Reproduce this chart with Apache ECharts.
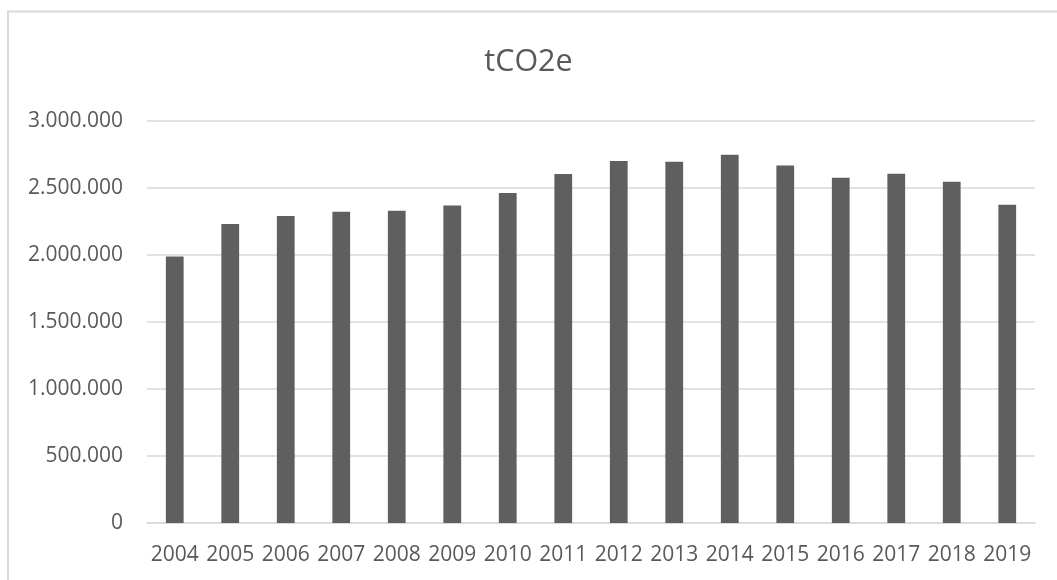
<!DOCTYPE html>
<html>
<head>
<meta charset="utf-8">
<style>
  html, body { margin: 0; padding: 0; background: #ffffff; }
  #chart { width: 1057px; height: 580px; }
</style>
<script src="https://cdn.jsdelivr.net/npm/echarts@6/dist/echarts.min.js"></script>
</head>
<body>
<div id="chart"></div>
<script>
// Annual emissions, tonnes CO2 equivalent
const years = ['2004', '2005', '2006', '2007', '2008', '2009', '2010', '2011',
               '2012', '2013', '2014', '2015', '2016', '2017', '2018', '2019'];
const emissions = [1988000, 2231000, 2291000, 2323000, 2331000, 2370000, 2463000, 2604000,
                   2701000, 2696000, 2749000, 2667000, 2577000, 2607000, 2547000, 2375000];
const chartTitle = 'tCO2e';
const yMin = 0;
const yMax = 3000000;
const yStep = 500000;

// Dots as thousands separators: 2500000 -> 2.500.000
function groupThousands(v) {
  return String(Math.round(v)).replace(/\B(?=(\d{3})+(?!\d))/g, '.');
}

const textColor = '#595959';
const lineColor = '#d9d9d9';
const fontFamily = '"Open Sans", "Liberation Sans", sans-serif';

const chart = echarts.init(document.getElementById('chart'), null, { renderer: 'canvas' });

chart.setOption({
  backgroundColor: '#ffffff',
  animation: false,
  title: {
    text: chartTitle,
    left: 'center',
    top: 42,
    textStyle: {
      color: textColor,
      fontFamily: fontFamily,
      fontSize: 30.5,
      fontWeight: 'normal'
    }
  },
  graphic: [{
    // chart-area frame
    type: 'rect',
    silent: true,
    shape: { x: 8, y: 11.5, width: 1200, height: 800 },
    style: { fill: 'none', stroke: lineColor, lineWidth: 2 }
  }],
  grid: {
    left: 147,
    right: 22,
    top: 121,
    height: 402,
    containLabel: false
  },
  xAxis: {
    type: 'category',
    data: years,
    axisLine: { show: true, lineStyle: { color: lineColor, width: 1.5 } },
    axisTick: { show: false },
    axisLabel: {
      color: textColor,
      fontFamily: fontFamily,
      fontSize: 21,
      margin: 22,
      interval: 0
    },
    splitLine: { show: false }
  },
  yAxis: {
    type: 'value',
    min: yMin,
    max: yMax,
    interval: yStep,
    axisLine: { show: false },
    axisTick: { show: false },
    axisLabel: {
      color: textColor,
      fontFamily: fontFamily,
      fontSize: 21,
      margin: 24,
      formatter: groupThousands
    },
    splitLine: { show: true, lineStyle: { color: lineColor, width: 1.5 } }
  },
  series: [{
    name: chartTitle,
    type: 'bar',
    data: emissions,
    barWidth: '32%',
    itemStyle: { color: '#5f5f5f' }
  }]
});
</script>
</body>
</html>
